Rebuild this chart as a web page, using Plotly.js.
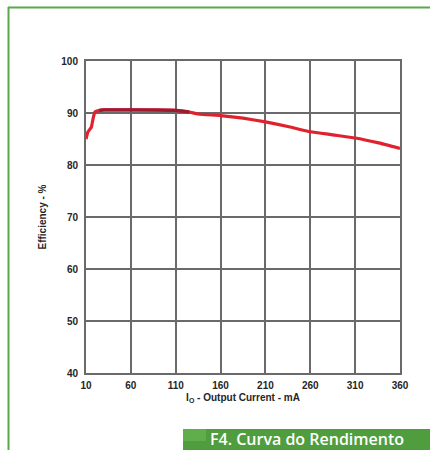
<!DOCTYPE html>
<html>
<head>
<meta charset="utf-8">
<script src="https://cdn.plot.ly/plotly-3.0.1.min.js"></script>
<style>
  html, body { margin: 0; padding: 0; background: #ffffff; }
  #chart { width: 430px; height: 450px; }
</style>
</head>
<body>
<div id="chart"></div>
<script>
// Efficiency versus output current
const currentMA = [10, 12, 14, 16, 18, 20, 25, 30, 60, 90, 110, 125, 135, 160, 185, 210, 235, 260, 285, 310, 335, 360];
const efficiencyPct = [85.0, 86.3, 86.8, 87.3, 89.0, 90.2, 90.5, 90.6, 90.6, 90.6, 90.5, 90.2, 89.8, 89.5, 89.0, 88.3, 87.4, 86.4, 85.8, 85.2, 84.3, 83.2];

// darker overlap of the flat plateau section
const plateauMA = [25, 30, 60, 90, 110, 125];
const plateauPct = [90.5, 90.6, 90.6, 90.6, 90.5, 90.2];

const xTicks = [10, 60, 110, 160, 210, 260, 310, 360];
const yTicks = [40, 50, 60, 70, 80, 90, 100];

const captionText = 'F4. Curva do Rendimento';

const W = 430, H = 450;
const M = { l: 86, r: 30, t: 61, b: 77 };
const PW = W - M.l - M.r, PH = H - M.t - M.b;
const px = x => (x - M.l) / PW;
const py = y => (H - M.b - y) / PH;

const green = '#5aa84a';
const gridCol = '#6a6a6a';
const textFont = { family: 'Liberation Sans, Arial, sans-serif', size: 10, color: '#262626', weight: 'bold' };

const traces = [
  {
    x: currentMA, y: efficiencyPct,
    type: 'scatter', mode: 'lines',
    line: { color: '#e0222e', width: 3.2, shape: 'spline', smoothing: 0.4 },
    hoverinfo: 'skip'
  },
  {
    x: plateauMA, y: plateauPct,
    type: 'scatter', mode: 'lines',
    line: { color: '#9e1a30', width: 3.4 },
    hoverinfo: 'skip'
  }
];

const layout = {
  width: W, height: H,
  margin: M,
  paper_bgcolor: '#ffffff',
  plot_bgcolor: '#ffffff',
  showlegend: false,
  xaxis: {
    range: [10, 360],
    tickvals: xTicks,
    ticktext: xTicks.map(String),
    showgrid: true, gridcolor: gridCol, gridwidth: 2,
    showline: true, linecolor: gridCol, linewidth: 2, mirror: true,
    zeroline: false,
    ticks: '', ticklabelstandoff: 2,
    tickfont: textFont,
    title: {
      text: 'I<sub>O</sub> - Output Current - mA',
      font: textFont,
      standoff: 4
    },
    fixedrange: true
  },
  yaxis: {
    range: [40, 100],
    tickvals: yTicks,
    ticktext: yTicks.map(String),
    showgrid: true, gridcolor: gridCol, gridwidth: 2,
    showline: true, linecolor: gridCol, linewidth: 2, mirror: true,
    zeroline: false,
    ticks: '', ticklabelstandoff: 4,
    tickfont: textFont,
    title: {
      text: 'Efficiency - %',
      font: textFont,
      standoff: 13
    },
    fixedrange: true
  },
  shapes: [
    // frame lines along top and left
    { type: 'line', xref: 'paper', yref: 'paper', x0: px(8), x1: px(440), y0: py(7.5), y1: py(7.5), line: { color: green, width: 2 } },
    { type: 'line', xref: 'paper', yref: 'paper', x0: px(8.5), x1: px(8.5), y0: py(7), y1: py(460), line: { color: green, width: 2 } },
    // caption banner
    { type: 'rect', xref: 'paper', yref: 'paper', x0: px(183), x1: px(440), y0: py(429), y1: py(460), line: { width: 0 }, fillcolor: '#4f9d3e' },
    { type: 'rect', xref: 'paper', yref: 'paper', x0: px(183), x1: px(206), y0: py(429), y1: py(441), line: { width: 0 }, fillcolor: '#5fae4c' }
  ],
  annotations: [
    {
      xref: 'paper', yref: 'paper',
      x: px(208), y: py(439),
      xanchor: 'left', yanchor: 'middle',
      text: captionText,
      showarrow: false,
      font: { family: 'Open Sans, sans-serif', size: 16, color: '#ffffff', weight: 600 }
    }
  ]
};

Plotly.newPlot('chart', traces, layout, { displayModeBar: false, staticPlot: true });
</script>
</body>
</html>
